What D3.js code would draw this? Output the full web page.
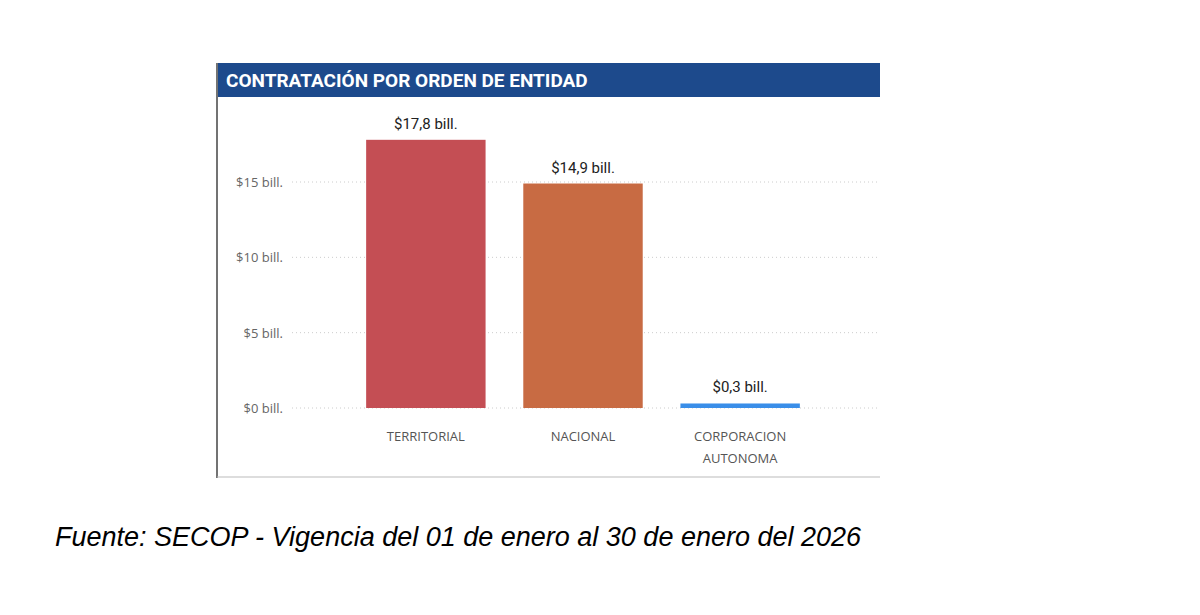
<!DOCTYPE html>
<html><head><meta charset="utf-8">
<script src="https://cdn.jsdelivr.net/npm/d3@7"></script>
<style>body{margin:0;background:#fff}</style>
</head><body>
<div id="container"></div>
<script>
let categories = [["TERRITORIAL"], ["NACIONAL"], ["CORPORACION", "AUTONOMA"]];
let values = [17.8, 14.9, 0.3];
let labels = ["$17,8 bill.", "$14,9 bill.", "$0,3 bill."];
let ticks = [0, 5, 10, 15];
let colors = ["#c44e54", "#c86b43", "#3a8ee8"];

let w = 1200, h = 615;
let svg = d3.select("#container").append("svg").attr("width", w).attr("height", h);

// panel frame
svg.append("rect").attr("x", 218).attr("y", 63).attr("width", 662).attr("height", 34).attr("fill", "#1d4a8c");
svg.append("line").attr("x1", 217).attr("x2", 217).attr("y1", 63).attr("y2", 478).attr("stroke", "#444").attr("stroke-width", 1.5);
svg.append("line").attr("x1", 217).attr("x2", 880).attr("y1", 477).attr("y2", 477).attr("stroke", "#bbb");
svg.append("text").attr("x", 226).attr("y", 87).text("CONTRATACIÓN POR ORDEN DE ENTIDAD")
  .attr("fill", "#fff").attr("font-family", "Roboto, sans-serif").attr("font-weight", "bold").attr("font-size", 19);

let y = d3.scaleLinear().domain([0, 15]).range([408, 182]);
let x = d3.scaleBand().domain(d3.range(categories.length)).range([341, 825]).paddingInner(0.24).paddingOuter(0.16);

svg.selectAll(".grid").data(ticks).enter().append("line")
  .attr("x1", 292).attr("x2", 878).attr("y1", d => y(d)).attr("y2", d => y(d))
  .attr("stroke", "#ccc").attr("stroke-dasharray", "1,3");
svg.selectAll(".tick").data(ticks).enter().append("text")
  .attr("x", 283).attr("y", d => y(d) + 5).attr("text-anchor", "end")
  .text(d => "$" + d + " bill.").attr("fill", "#666").attr("font-family", "Open Sans, sans-serif").attr("font-size", 13);

svg.selectAll(".bar").data(values).enter().append("rect")
  .attr("x", (d, i) => x(i)).attr("width", x.bandwidth())
  .attr("y", d => Math.min(y(d), y(0) - 4)).attr("height", d => Math.max(y(0) - y(d), 4))
  .attr("fill", (d, i) => colors[i]);

svg.selectAll(".val").data(values).enter().append("text")
  .attr("x", (d, i) => x(i) + x.bandwidth() / 2).attr("y", d => Math.min(y(d), y(0) - 4) - 11)
  .attr("text-anchor", "middle").text((d, i) => labels[i])
  .attr("fill", "#222").attr("font-family", "Roboto, sans-serif").attr("font-size", 15);

categories.forEach((c, i) => {
  c.forEach((t, j) => {
    svg.append("text").attr("x", x(i) + x.bandwidth() / 2).attr("y", 441 + j * 22)
      .attr("text-anchor", "middle").text(t).attr("fill", "#555")
      .attr("font-family", "Open Sans, sans-serif").attr("font-size", 13);
  });
});

svg.append("text").attr("x", 55).attr("y", 546)
  .text("Fuente: SECOP - Vigencia del 01 de enero al 30 de enero del 2026")
  .attr("font-family", "Liberation Sans, Arial, sans-serif").attr("font-style", "italic").attr("font-size", 27).attr("fill", "#000");
</script>
</body></html>
